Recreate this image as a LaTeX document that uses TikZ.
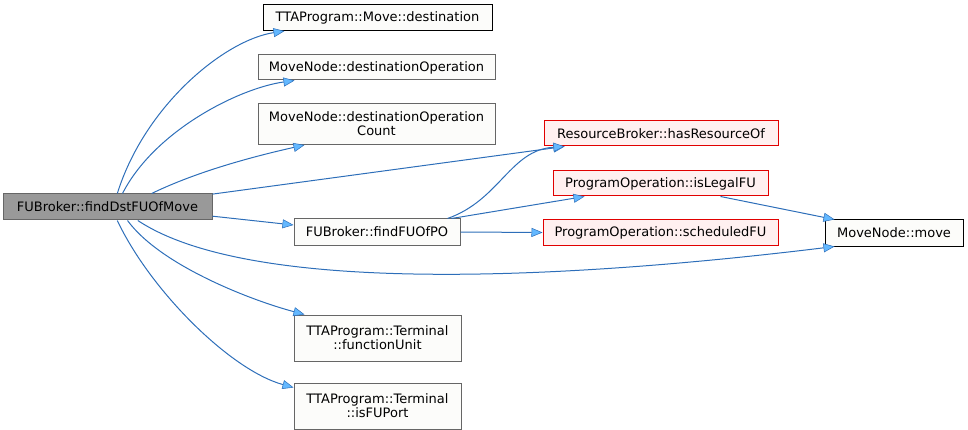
\documentclass[tikz,border=0pt]{standalone}
\usepackage{fontspec}
\setmainfont{DejaVu Sans}
\usepackage{tikz}
\usetikzlibrary{arrows.meta,positioning}
\definecolor{edgeblue}{RGB}{45,110,185}
\definecolor{headblue}{RGB}{99,184,255}
\definecolor{rootgrey}{RGB}{153,153,153}
\definecolor{bordergrey}{RGB}{102,102,102}
\definecolor{nodebg}{RGB}{252,252,250}
\definecolor{truncred}{RGB}{225,0,0}
\definecolor{truncbg}{RGB}{255,240,240}
\tikzset{
  fn/.style={draw=bordergrey,fill=nodebg,align=center,inner sep=0pt,
             font=\fontsize{13}{14}\selectfont,line width=1pt},
  fnroot/.style={fn,fill=rootgrey},
  fnext/.style={fn,draw=black},
  fntrunc/.style={fn,draw=truncred,fill=truncbg},
  flow/.style={-{Triangle[length=11pt,width=9pt,fill=headblue,line width=0.5pt]},
               draw=edgeblue,line width=1pt},
}

\begin{document}
\begin{tikzpicture}[x=1pt,y=-1pt]
  \useasboundingbox (0,0) rectangle (968,430);

  \node[fnroot,minimum width=209pt,minimum height=26pt] (root) at (107.5,207)
    {FUBroker::findDstFUOfMove};

  \node[fnext,minimum width=229pt,minimum height=26pt] (dest) at (377.5,17.5)
    {TTAProgram::Move::destination};
  \node[fn,minimum width=237pt,minimum height=25pt] (dop) at (376.5,67.5)
    {MoveNode::destinationOperation};
  \node[fn,minimum width=237pt,minimum height=41pt] (dopc) at (376.5,124)
    {MoveNode::destinationOperation\\Count};
  \node[fn,minimum width=166pt,minimum height=26pt] (findfu) at (377,232)
    {FUBroker::findFUOfPO};
  \node[fn,minimum width=167pt,minimum height=46pt] (fu) at (377.5,338)
    {TTAProgram::Terminal\\::functionUnit};
  \node[fn,minimum width=167pt,minimum height=46pt] (isport) at (377.5,406)
    {TTAProgram::Terminal\\::isFUPort};

  \node[fntrunc,minimum width=234pt,minimum height=25pt] (hasres) at (661,133.5)
    {ResourceBroker::hasResourceOf};
  \node[fntrunc,minimum width=215pt,minimum height=25pt] (islegal) at (660.5,183.5)
    {ProgramOperation::isLegalFU};
  \node[fntrunc,minimum width=235pt,minimum height=25pt] (sched) at (660.5,232.5)
    {ProgramOperation::scheduledFU};

  \node[fnext,minimum width=138pt,minimum height=26pt] (move) at (894,233)
    {MoveNode::move};

  % calls from the root function
  \draw[flow] (root.54) .. controls (145,105) and (225,40) .. ([xshift=22pt]dest.south west);
  \draw[flow] (root.42) .. controls (155,130) and (240,88) .. ([xshift=37pt]dop.south west);
  \draw[flow] (root.17) .. controls (200,170) and (260,155) .. ([xshift=47pt]dopc.south west);
  \draw[flow] (root.7) -- ([xshift=21pt]hasres.south west);
  \draw[flow] (root.-5) -- ([yshift=7pt]findfu.west);
  \draw[flow] (root.-24) .. controls (250,295) and (560,280) .. ([xshift=10pt]move.south west);
  \draw[flow] (root.-34) .. controls (160,265) and (250,300) .. ([xshift=11pt]fu.north west);
  \draw[flow] (root.-54) .. controls (150,290) and (230,370) .. ([yshift=-5pt]isport.north west);

  % calls from findFUOfPO
  \draw[flow] ([xshift=-13pt]findfu.north east) .. controls (500,200) and (510,150)
        .. ([xshift=21pt]hasres.south west);
  \draw[flow] ([xshift=-9pt]findfu.north east) -- ([xshift=32pt]islegal.south west);
  \draw[flow] (findfu.east) -- (sched.west);

  \draw[flow] ([xshift=-48pt]islegal.south east) -- ([xshift=10pt]move.north west);
\end{tikzpicture}
\end{document}
